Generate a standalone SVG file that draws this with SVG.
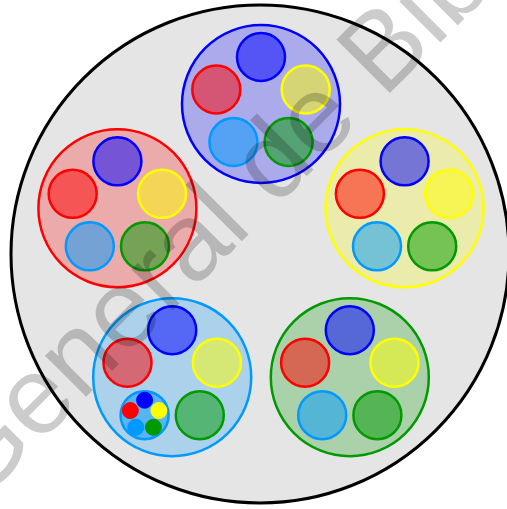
<svg xmlns="http://www.w3.org/2000/svg" width="507" height="509" viewBox="0 0 507 509">
  <defs>
    <style>
      .outer { fill: #e5e5e5; stroke: #000; stroke-width: 3; }
      .grp { fill-opacity: 0.25; stroke-width: 2.5; }
      .sm { fill-opacity: 0.5; stroke-width: 2.5; }
      .tiny { stroke: none; }
      .cB { fill: #0000ff; stroke: #0000ff; }
      .cR { fill: #ff0000; stroke: #ff0000; }
      .cY { fill: #ffff00; stroke: #ffff00; }
      .cL { fill: #0099ff; stroke: #0099ff; }
      .cG { fill: #009900; stroke: #009900; }
      .wm { font-family: "Liberation Sans", Arial, sans-serif; font-size: 110px; fill: #000; fill-opacity: 0.2; }
    </style>
    <g id="five">
      <circle class="sm cB" cx="0" cy="-47" r="24"/>
      <circle class="sm cR" cx="-44.7" cy="-14.5" r="24"/>
      <circle class="sm cY" cx="44.7" cy="-14.5" r="24"/>
      <circle class="sm cG" cx="27.6" cy="38" r="24"/>
    </g>
  </defs>

  <g id="outer">
    <circle class="outer" cx="260" cy="254" r="249"/>
  </g>

  <g id="group-blue">
    <circle class="grp cB" cx="261" cy="104" r="79"/>
    <use href="#five" x="261" y="104"/>
    <circle class="sm cL" cx="233.4" cy="142" r="24"/>
  </g>

  <g id="group-yellow">
    <circle class="grp cY" cx="404.6" cy="208.3" r="79"/>
    <use href="#five" x="404.6" y="208.3"/>
    <circle class="sm cL" cx="377" cy="246.3" r="24"/>
  </g>

  <g id="group-green">
    <circle class="grp cG" cx="349.8" cy="377.2" r="79"/>
    <use href="#five" x="349.8" y="377.2"/>
    <circle class="sm cL" cx="322.2" cy="415.2" r="24"/>
  </g>

  <g id="group-red">
    <circle class="grp cR" cx="117.4" cy="208.3" r="79"/>
    <use href="#five" x="117.4" y="208.3"/>
    <circle class="sm cL" cx="89.8" cy="246.3" r="24"/>
  </g>

  <g id="group-lightblue">
    <circle class="grp cL" cx="172.2" cy="377.2" r="79"/>
    <use href="#five" x="172.2" y="377.2"/>
    <g id="nested">
      <circle class="sm cL" cx="144.6" cy="415.2" r="24"/>
      <circle class="tiny cB" cx="144.6" cy="400.2" r="8"/>
      <circle class="tiny cR" cx="130.3" cy="410.6" r="8"/>
      <circle class="tiny cY" cx="158.9" cy="410.6" r="8"/>
      <circle class="tiny cL" cx="135.8" cy="427.3" r="8"/>
      <circle class="tiny cG" cx="153.4" cy="427.3" r="8"/>
    </g>
  </g>

  <g id="watermark">
    <text class="wm" transform="translate(-23,506) rotate(-45)" x="0" y="0">General de Bib</text>
  </g>
</svg>
